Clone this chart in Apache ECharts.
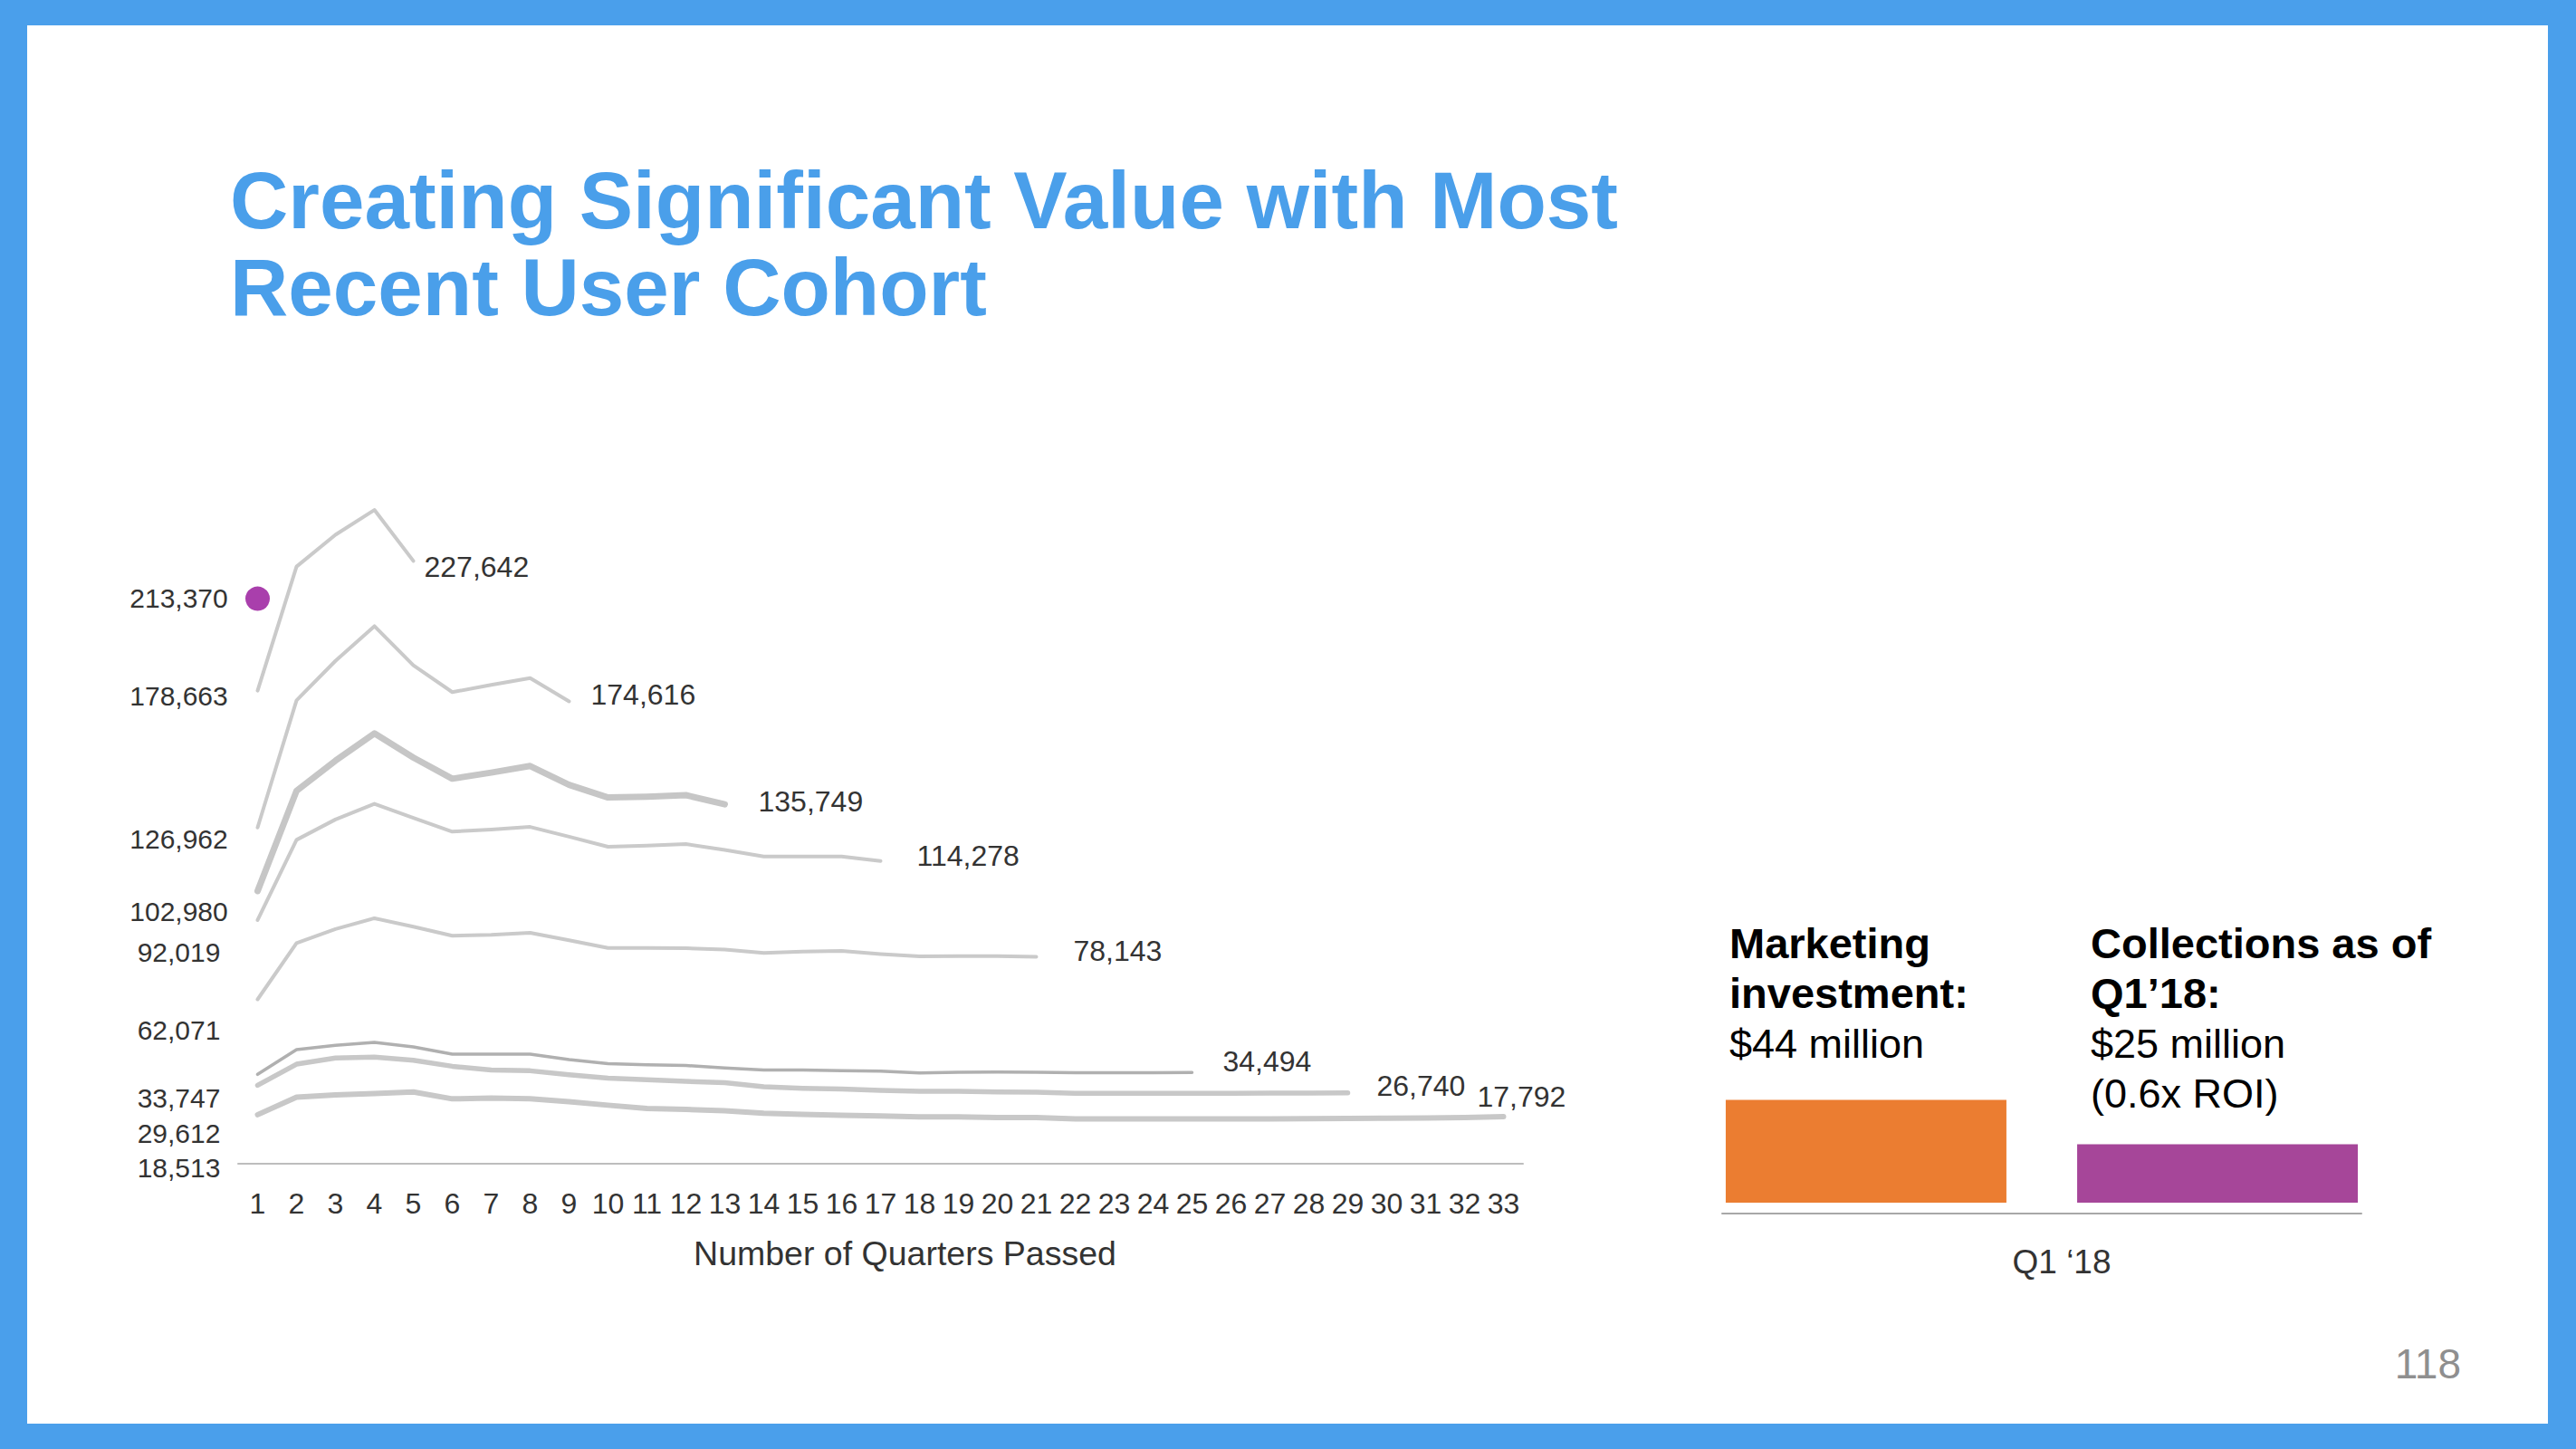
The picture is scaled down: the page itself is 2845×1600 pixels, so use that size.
<!DOCTYPE html>
<html>
<head>
<meta charset="utf-8">
<script src="https://cdn.jsdelivr.net/npm/echarts@6/dist/echarts.min.js"></script>
<style>
html,body{margin:0;padding:0;background:#fff;}
#chart{width:2845px;height:1600px;}
</style>
</head>
<body>
<div id="chart"></div>
<script>
// ---------------- DATA ----------------
const quarters = ['1','2','3','4','5','6','7','8','9','10','11','12','13','14','15','16','17','18','19','20','21','22','23','24','25','26','27','28','29','30','31','32','33'];

const cohortA = [178663, 225500, 237500, 246900, 227642];
const cohortB = [126962, 175000, 189900, 203000, 188200, 178100, 180800, 183400, 174616];
const cohortC = [102980, 140800, 152200, 162500, 153400, 145400, 147700, 150200, 143100, 138300, 138600, 139200, 135749];
const cohortD = [92019, 122300, 130000, 135900, 130600, 125400, 126200, 127200, 123500, 119700, 120100, 120700, 118500, 116000, 116000, 116000, 114278];
const cohortE = [62071, 83300, 88600, 92700, 89500, 86100, 86400, 87200, 84400, 81500, 81500, 81400, 80900, 79600, 80100, 80400, 79200, 78300, 78400, 78400, 78143];
const cohortF = [33747, 43100, 44700, 45800, 44100, 41400, 41400, 41400, 39300, 37800, 37400, 37100, 36200, 35400, 35400, 35100, 35000, 34300, 34500, 34600, 34500, 34400, 34400, 34400, 34494];
const cohortG = [29612, 37600, 39900, 40300, 39100, 36800, 35400, 35100, 33600, 32300, 31700, 31100, 30600, 29100, 28500, 28200, 27700, 27400, 27400, 27100, 27000, 26600, 26600, 26600, 26600, 26600, 26650, 26700, 26740];
const cohortH = [18513, 25100, 26000, 26500, 27100, 24500, 24800, 24500, 23400, 22100, 20900, 20500, 20000, 19100, 18600, 18300, 18000, 17700, 17700, 17400, 17400, 16900, 16900, 16900, 16900, 16900, 16950, 17000, 17100, 17200, 17300, 17400, 17792];
const recentCohort = [213370];

const barCategories = ['Q1 \u201818'];
const marketingInvestment = [44];
const collections = [25];

const titleLines = ['Creating Significant Value with Most', 'Recent User Cohort'];
const marketingText = ['Marketing', 'investment:', '$44 million'];
const collectionsText = ['Collections as of', 'Q1\u201918:', '$25 million', '(0.6x ROI)'];
const xAxisTitle = 'Number of Quarters Passed';
const pageNumber = '118';

// ---------------- STYLES ----------------
const FONT = '"Liberation Sans", "Helvetica Neue", Helvetica, Arial, sans-serif';
const TEXT = '#333333';
const cohorts = [cohortA, cohortB, cohortC, cohortD, cohortE, cohortF, cohortG, cohortH];
const cohortStyles = [
  {color:'#CACACA', width:4,   start:[-87, 6],  end:[12, 7]},
  {color:'#CACACA', width:4,   start:[-87, 13], end:[24, -7]},
  {color:'#C6C6C6', width:7,   start:[-87, 23], end:[37, -3]},
  {color:'#CACACA', width:4,   start:[-87, 36], end:[40, -6]},
  {color:'#CACACA', width:4,   start:[-87, 34], end:[41, -7]},
  {color:'#B0B0B0', width:3.5, start:[-87, 26], end:[34, -12]},
  {color:'#C8C8C8', width:5.5, start:[-87, 53], end:[32, -8]},
  {color:'#C8C8C8', width:6,   start:[-87, 59], end:[-29, -22]}
];

const fmt = v => Number(v).toLocaleString('en-US');

function buildData(values, st) {
  return values.map((v, i) => {
    if (i === 0) return {value: v, label: {show: true, position: 'inside', offset: st.start, fontSize: 30}};
    if (i === values.length - 1) return {value: v, label: {show: true, position: 'right', distance: 0, offset: st.end, fontSize: 32}};
    return v;
  });
}

const lineSeries = cohorts.map((vals, k) => ({
  type: 'line',
  name: 'Cohort ' + (k + 1),
  xAxisIndex: 0, yAxisIndex: 0,
  data: buildData(vals, cohortStyles[k]),
  symbol: 'circle', symbolSize: 0, showSymbol: true, showAllSymbol: true,
  lineStyle: {color: cohortStyles[k].color, width: cohortStyles[k].width, cap: 'round', join: 'round'},
  itemStyle: {color: cohortStyles[k].color},
  label: {show: false, formatter: p => fmt(p.value), color: TEXT, fontFamily: FONT, textBorderWidth: 0},
  silent: true, clip: false,
  z: 2 + (8 - k) * 0.01
}));

const graphics = [
  // blue frame
  {type:'rect', shape:{x:0, y:0, width:2845, height:28}, style:{fill:'#4A9FEB'}, z:100},
  {type:'rect', shape:{x:0, y:1572, width:2845, height:28}, style:{fill:'#4A9FEB'}, z:100},
  {type:'rect', shape:{x:0, y:0, width:30, height:1600}, style:{fill:'#4A9FEB'}, z:100},
  {type:'rect', shape:{x:2814, y:0, width:31, height:1600}, style:{fill:'#4A9FEB'}, z:100}
];
titleLines.forEach((t, i) => graphics.push({
  type:'text', x:254, y:220.5 + i * 96,
  style:{text:t, fill:'#4A9FEA', fontSize:89, fontWeight:'bold', fontFamily:FONT, align:'left', verticalAlign:'middle'}
}));
marketingText.forEach((t, i) => graphics.push({
  type:'text', x:1910, y:1041 + i * 55.5,
  style:{text:t, fill:'#000', fontSize: i < 2 ? 47 : 45, fontWeight: i < 2 ? 'bold' : 'normal', fontFamily:FONT, align:'left', verticalAlign:'middle'}
}));
collectionsText.forEach((t, i) => graphics.push({
  type:'text', x:2309, y:1041 + i * 55.5,
  style:{text:t, fill:'#000', fontSize: i < 2 ? 47 : 45, fontWeight: i < 2 ? 'bold' : 'normal', fontFamily:FONT, align:'left', verticalAlign:'middle'}
}));
graphics.push({
  type:'text', x:2718, y:1506,
  style:{text:pageNumber, fill:'#8F8F8F', fontSize:46, fontFamily:FONT, align:'right', verticalAlign:'middle'}
});

const option = {
  backgroundColor: '#ffffff',
  animation: false,
  textStyle: {fontFamily: FONT},
  grid: [
    {left: 263, width: 1419, top: 554, bottom: 315, containLabel: false},
    {left: 1902, width: 706, top: 1199, bottom: 272, containLabel: false}
  ],
  xAxis: [
    {
      type: 'category', gridIndex: 0, data: quarters, boundaryGap: true,
      axisLine: {show: true, onZero: false, lineStyle: {color: '#BDBDBD', width: 2}},
      axisTick: {show: false},
      axisLabel: {interval: 0, fontSize: 32, color: TEXT, margin: 28, fontFamily: FONT},
      splitLine: {show: false},
      name: xAxisTitle, nameLocation: 'middle', nameGap: 80,
      nameTextStyle: {fontSize: 37.5, color: TEXT, fontFamily: FONT, padding: [0, 0, 0, 54]}
    },
    {
      type: 'category', gridIndex: 1, data: barCategories, boundaryGap: true,
      offset: 12,
      axisLine: {show: true, onZero: false, lineStyle: {color: '#A8A8A8', width: 2}},
      axisTick: {show: false},
      axisLabel: {fontSize: 37, color: TEXT, margin: 35, fontFamily: FONT, padding: [0, 0, 0, 44]},
      splitLine: {show: false}
    }
  ],
  yAxis: [
    {type: 'value', gridIndex: 0, min: 0, max: 250000, show: false, splitLine: {show: false}},
    {type: 'value', gridIndex: 1, min: 0, max: 50, show: false, splitLine: {show: false}}
  ],
  series: [
    ...lineSeries,
    {
      type: 'scatter', name: 'Most recent cohort', xAxisIndex: 0, yAxisIndex: 0,
      data: recentCohort.map(v => ({value: v})),
      symbol: 'circle', symbolSize: 27,
      itemStyle: {color: '#A93FAC', opacity: 1},
      label: {show: true, position: 'inside', offset: [-87, -1], formatter: p => fmt(p.value),
              color: TEXT, fontSize: 30, fontFamily: FONT, textBorderWidth: 0},
      silent: true, z: 5
    },
    {
      type: 'bar', name: 'Marketing investment', xAxisIndex: 1, yAxisIndex: 1,
      data: marketingInvestment, barWidth: 310, barGap: '25.2%',
      itemStyle: {color: '#EB7D31'}, silent: true
    },
    {
      type: 'bar', name: 'Collections', xAxisIndex: 1, yAxisIndex: 1,
      data: collections, barWidth: 310, barGap: '25.2%',
      itemStyle: {color: '#A64699'}, silent: true
    }
  ],
  graphic: graphics
};

const chart = echarts.init(document.getElementById('chart'), null, {renderer: 'svg', width: 2845, height: 1600});
chart.setOption(option);
</script>
</body>
</html>
